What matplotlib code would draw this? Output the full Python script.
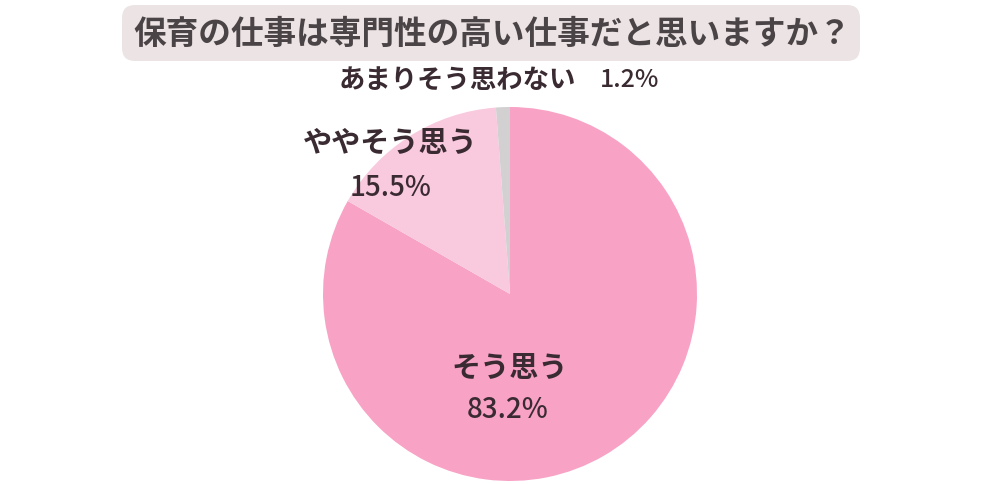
import matplotlib
matplotlib.use('Agg')
import matplotlib.pyplot as plt
from matplotlib.patches import FancyBboxPatch

plt.rcParams['font.family'] = ['Noto Sans CJK JP', 'DejaVu Sans']

title = '保育の仕事は専門性の高い仕事だと思いますか？'
labels = ['そう思う', 'ややそう思う', 'あまりそう思わない']
values = [83.2, 15.5, 1.2]
colors = ['#f8a2c5', '#f9c9de', '#d2d0d1']

W, H = 984, 485
fig = plt.figure(figsize=(W / 100, H / 100), dpi=100, facecolor='white')
ax = fig.add_axes([0, 0, 1, 1])
ax.set_xlim(0, W)
ax.set_ylim(0, H)
ax.set_aspect('equal')
ax.axis('off')

# pie, clockwise from 12 o'clock
ax.pie(values, colors=colors, startangle=90, counterclock=False,
       center=(510, H - 295), radius=187,
       wedgeprops=dict(linewidth=0))
ax.set_xlim(0, W)
ax.set_ylim(0, H)

# title box
box = FancyBboxPatch((122, H - 62), 738, 56,
                     boxstyle='round,pad=0,rounding_size=13',
                     facecolor='#ece4e4', edgecolor='none')
ax.add_patch(box)
ax.text(492, H - 34, title, ha='center', va='center', fontsize=23.5,
        fontweight='bold', color='#4b4446')

txt = '#3a2a31'
def pct(v):
    return f'{v:.1f}%'

ax.text(457, H - 80, labels[2], ha='center', va='center', fontsize=19,
        fontweight='bold', color=txt)
ax.text(630, H - 80, pct(values[2]), ha='center', va='center', fontsize=18,
        fontweight='medium', color=txt)
ax.text(390, H - 143, labels[1], ha='center', va='center', fontsize=21,
        fontweight='bold', color=txt)
ax.text(391, H - 187, pct(values[1]), ha='center', va='center', fontsize=20,
        fontweight='medium', color=txt)
ax.text(510, H - 368, labels[0], ha='center', va='center', fontsize=21,
        fontweight='bold', color=txt)
ax.text(508, H - 410, pct(values[0]), ha='center', va='center', fontsize=20,
        fontweight='medium', color=txt)

fig.savefig('out.png', dpi=100, facecolor='white')
